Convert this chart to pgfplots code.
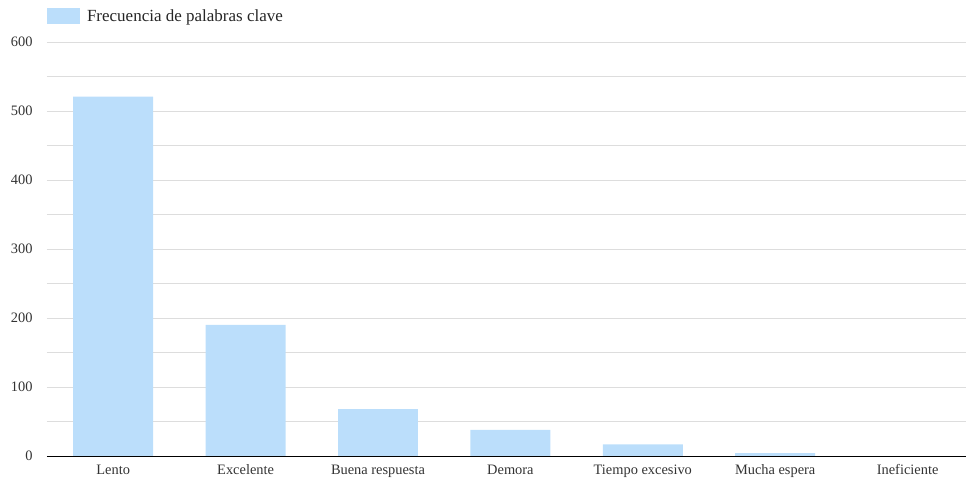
\documentclass[border=0pt]{standalone}
\usepackage{pgfplots}
\pgfplotsset{compat=1.18}
\usepackage{fontspec}
\setmainfont{Liberation Serif}
\definecolor{barblue}{HTML}{BBDEFB}
\definecolor{gridgray}{HTML}{DDDDDD}
\begin{document}
\begin{tikzpicture}[x=1pt,y=1pt]
\path[use as bounding box] (-47,-27) rectangle (919,456);
\begin{axis}[
  at={(0,0)}, anchor=south west,
  scale only axis,
  width=926.8pt, height=414pt,
  xmin=-0.5, xmax=6.5,
  ymin=0, ymax=600,
  xtick=data,
  xticklabels={Lento,Excelente,Buena respuesta,Demora,Tiempo excesivo,Mucha espera,Ineficiente},
  ytick={0,100,...,600},
  minor ytick={50,150,...,550},
  ymajorgrids, yminorgrids,
  major grid style={gridgray, line width=0.8pt},
  minor grid style={gridgray, line width=0.8pt},
  axis line style={draw=none},
  tick style={draw=none},
  tick label style={font=\fontsize{14.4}{16}\selectfont, text=black!80},
  /pgf/number format/assume math mode=true,
  yticklabel style={xshift=-11pt},
  xticklabel style={yshift=-1pt},
  ybar, bar width=0.604,
  legend style={at={(rel axis cs:0,1)}, anchor=west, yshift=26pt, draw=none, fill=none, inner sep=0pt, outer sep=0pt, font=\fontsize{17}{19}\selectfont, text=black!85},
  legend image code/.code={\fill[barblue] (0pt,-8pt) rectangle (33pt,8pt);},
  legend cell align=left,
  clip=false,
]
\addplot[fill=barblue, draw=none] coordinates {(0,521) (1,190) (2,68) (3,38) (4,17) (5,4) (6,0)};
\addlegendentry{\hspace{5pt}Frecuencia de palabras clave}
\draw[black, line width=1pt] (axis cs:-0.5,0) -- (axis cs:6.5,0);
\end{axis}
\end{tikzpicture}
\end{document}
